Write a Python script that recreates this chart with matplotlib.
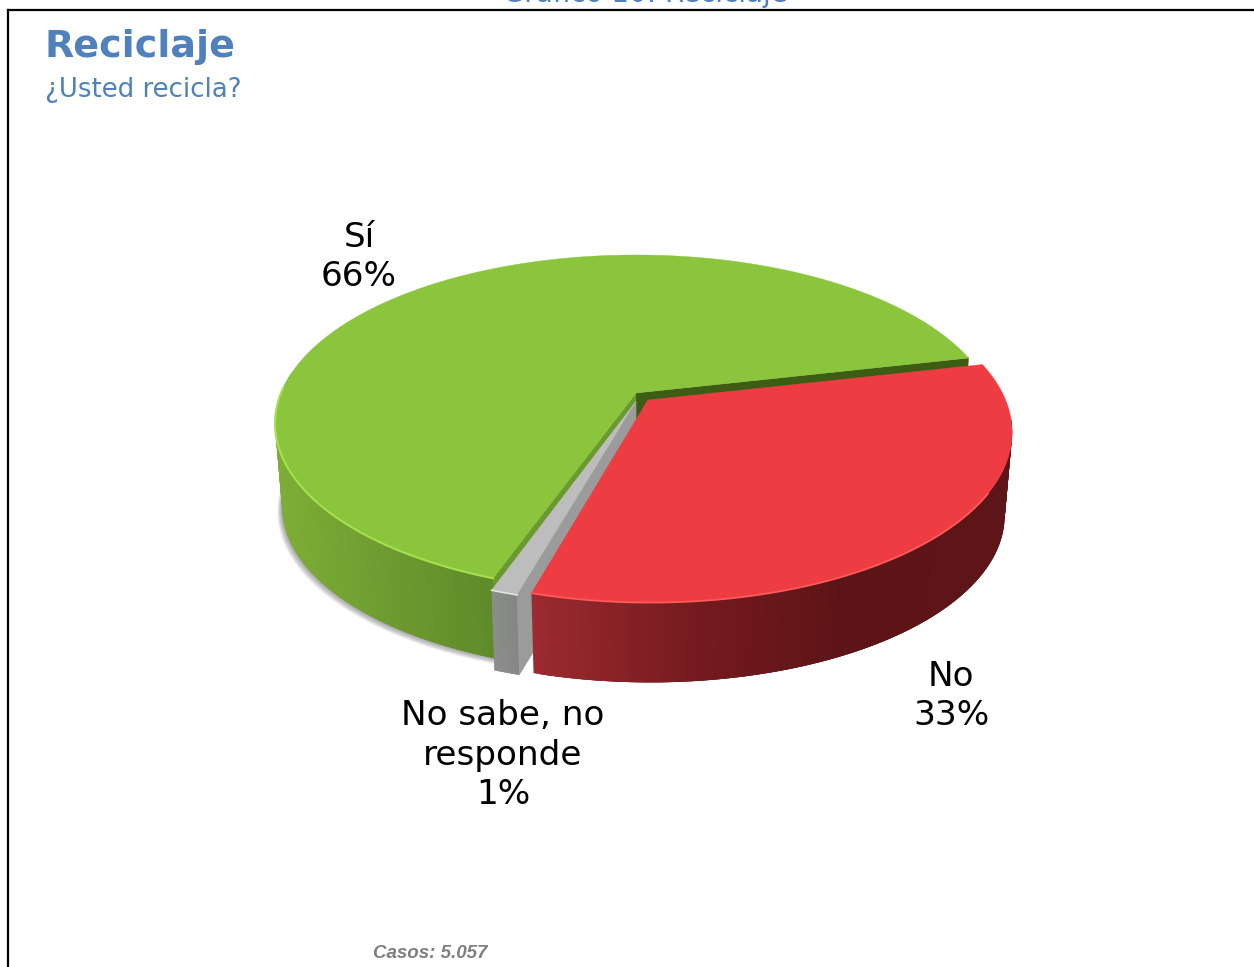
import numpy as np
import matplotlib
matplotlib.use("Agg")
import matplotlib.pyplot as plt

# datos
categorias = ["Sí", "No sabe, no\nresponde", "No"]
valores = [66, 1, 33]
titulo = "Reciclaje"
subtitulo = "¿Usted recicla?"
casos = "Casos: 5.057"
encabezado = "Gráfico 10: Reciclaje"

# perspectiva del pastel (pixeles)
X0, Y0 = 636, 393
A, B, K = 355, 163, 0.181
ESC_BASE, ALTO = 0.98, 84
INICIO = 12.9

# desplazamiento de cada porcion sobre el disco
offsets = [(0, 0), (0.0, -0.05), (0.033, -0.043)]


def proy(x, y, base=False):
    w = 1 + K * y
    if base:
        return X0 + ESC_BASE * A * x / w, Y0 + ALTO - ESC_BASE * B * y / w
    return X0 + A * x / w, Y0 - B * y / w


def borde(a1, a2, off, base=False, n=200):
    t = np.radians(np.linspace(a1, a2, n))
    return proy(np.cos(t) + off[0], np.sin(t) + off[1], base)


def mezcla(c1, c2, f):
    c1 = np.array(matplotlib.colors.to_rgb(c1))
    c2 = np.array(matplotlib.colors.to_rgb(c2))
    return tuple(c1 + (c2 - c1) * f)


def lateral(ax, a1, a2, off, colores, pos, z):
    # cara curva como tiras finas para el degradado, cada una pisa a la anterior
    t = np.linspace(a1, a2, 160)
    for i in range(len(t) - 1):
        xa, ya = borde(t[i], t[min(i + 3, len(t) - 1)], off, n=4)
        xb, yb = borde(t[i], t[min(i + 3, len(t) - 1)], off, base=True, n=4)
        f = np.interp(xa[0], pos, np.arange(len(colores)))
        j = min(int(f), len(colores) - 2)
        c = mezcla(colores[j], colores[j + 1], f - j)
        ax.fill(np.r_[xa, xb[::-1]], np.r_[ya, yb[::-1]], color=c, lw=0, zorder=z)


def pared(ax, ang, off, color, z):
    xc, yc = proy(off[0], off[1])
    xcb, ycb = proy(off[0], off[1], True)
    xe, ye = borde(ang, ang, off, n=1)
    xeb, yeb = borde(ang, ang, off, base=True, n=1)
    ax.fill([xc, xe[0], xeb[0], xcb], [yc, ye[0], yeb[0], ycb], color=color, lw=0.3, zorder=z)


def tapa(ax, a1, a2, off, color, z):
    xe, ye = borde(a1, a2, off)
    xc, yc = proy(off[0], off[1])
    ax.fill(np.r_[xc, xe], np.r_[yc, ye], color=color, lw=0.3, zorder=z)


fig = plt.figure(figsize=(12.54, 9.67), dpi=100)
ax = fig.add_axes([0, 0, 1, 1])
ax.set_xlim(0, 1254)
ax.set_ylim(967, 0)
ax.axis("off")

angulos = INICIO + np.cumsum([0] + valores) * 360 / sum(valores)
a_si = angulos[0], angulos[1]
a_ns = angulos[1], angulos[2]
a_no = angulos[2], angulos[3]

# sombra bajo la parte izquierda
for d in range(1, 7):
    xs, ys = borde(172, a_ns[1], offsets[0], base=True)
    ax.fill(np.r_[xs - d * 0.8, X0], np.r_[ys + d * 0.8, Y0 + ALTO], color="#555555", alpha=0.1, lw=0, zorder=1)

# Sí
lateral(ax, 172, a_si[1], offsets[0], ["#7dad37", "#6f9c30", "#5f8a2a"], [280, 380, 492], 2)
pared(ax, a_si[0], offsets[0], "#3d5c14", 3)
pared(ax, a_si[1], offsets[0], "#6a9a2e", 3)
tapa(ax, a_si[0], a_si[1], offsets[0], "#8bc43d", 4)
xr, yr = borde(178, a_si[1], offsets[0])
ax.plot(xr, yr, color="#a8e04c", lw=1.5, zorder=5)

# No sabe
lateral(ax, a_ns[0], a_ns[1], offsets[1], ["#8e8e8e", "#868686"], [491, 516], 6)
pared(ax, a_ns[1], offsets[1], "#9b9b9b", 7)
tapa(ax, a_ns[0], a_ns[1], offsets[1], "#bdbdbd", 8)
xr, yr = borde(a_ns[0], a_ns[1], offsets[1])
ax.plot(xr, yr, color="#e2e2e2", lw=1.2, zorder=9)

# No
lateral(ax, a_no[0], a_no[0] + 100, offsets[2], ["#9c2a30", "#741a1e", "#5c1416", "#5e1517"], [530, 700, 850, 1010], 10)
tapa(ax, a_no[0], a_no[1], offsets[2], "#ee3d42", 11)
xr, yr = borde(a_no[0], a_no[0] + 75, offsets[2])
ax.plot(xr, yr, color="#ff5a5c", lw=1.3, zorder=12)

# etiquetas
pos_etiquetas = [(359, 257), (503, 755), (951, 696)]
for cat, val, (x, y) in zip(categorias, valores, pos_etiquetas):
    ax.text(x, y, f"{cat}\n{val}%", ha="center", va="center", fontsize=24.7,
            color="black", linespacing=1.26, zorder=20)

ax.text(45, 47, titulo, fontsize=27.4, fontweight="bold", color="#4f81bd", va="center", ha="left")
ax.text(45, 90, subtitulo, fontsize=18.7, color="#4f81bd", va="center", ha="left")
ax.text(373, 953, casos, fontsize=13.5, fontweight="bold", fontstyle="italic",
        family="Liberation Sans", color="#7f7f7f", va="center", ha="left")
ax.text(645, 1.5, encabezado, fontsize=20, color="#4f81bd", va="baseline", ha="center", clip_on=False)

# marco
ax.plot([8, 8], [967, 10], color="black", lw=1.6, zorder=30)
ax.plot([8, 1254], [10, 10], color="black", lw=1.6, zorder=30)

fig.savefig("out.png", dpi=100)
